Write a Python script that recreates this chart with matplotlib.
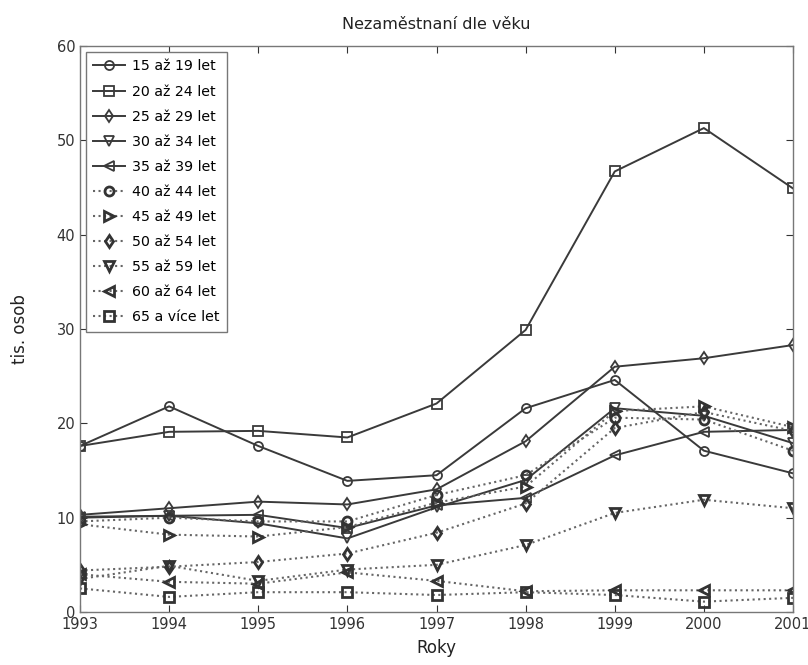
import matplotlib
matplotlib.use("Agg")
import matplotlib.pyplot as plt

# Data (tis. osob)
years = [1993, 1994, 1995, 1996, 1997, 1998, 1999, 2000, 2001]

labels = [
    "15 až 19 let", "20 až 24 let", "25 až 29 let", "30 až 34 let",
    "35 až 39 let", "40 až 44 let", "45 až 49 let", "50 až 54 let",
    "55 až 59 let", "60 až 64 let", "65 a více let",
]

age_15_19 = [17.6, 21.8, 17.6, 13.9, 14.5, 21.6, 24.6, 17.1, 14.7]
age_20_24 = [17.6, 19.1, 19.2, 18.5, 22.1, 29.9, 46.7, 51.3, 44.9]
age_25_29 = [10.3, 11.0, 11.7, 11.4, 13.0, 18.1, 26.0, 26.9, 28.3]
age_30_34 = [10.0, 10.2, 9.4, 7.8, 11.1, 14.0, 21.6, 20.8, 17.9]
age_35_39 = [10.1, 10.2, 10.3, 8.9, 11.3, 12.1, 16.6, 19.1, 19.3]
age_40_44 = [9.6, 10.0, 9.6, 9.6, 12.4, 14.5, 20.6, 20.4, 17.1]
age_45_49 = [9.3, 8.2, 8.0, 9.0, 11.6, 13.3, 21.3, 21.8, 19.6]
age_50_54 = [4.4, 4.8, 5.3, 6.2, 8.4, 11.5, 19.5, 21.2, 19.2]
age_55_59 = [3.5, 4.9, 3.3, 4.5, 5.0, 7.1, 10.5, 11.9, 11.0]
age_60_64 = [4.0, 3.2, 3.0, 4.2, 3.3, 2.2, 2.3, 2.3, 2.3]
age_65_up = [2.5, 1.6, 2.1, 2.1, 1.8, 2.1, 1.8, 1.1, 1.5]

series = [age_15_19, age_20_24, age_25_29, age_30_34, age_35_39,
          age_40_44, age_45_49, age_50_54, age_55_59, age_60_64, age_65_up]
markers = ["o", "s", "d", "v", "<", "o", ">", "d", "v", "<", "s"]
styles = ["-"] * 5 + [":"] * 6

fig = plt.figure(figsize=(8.08, 6.65), dpi=100)
ax = fig.add_axes([80 / 808, 1 - 612 / 665, 713 / 808, 566 / 665])

for vals, lab, m, ls in zip(series, labels, markers, styles):
    if ls == "-":
        ax.plot(years, vals, ls, color="#3a3a3a", linewidth=1.4, marker=m,
                markersize=6.5, markerfacecolor="none", markeredgewidth=1.3,
                label=lab)
    else:
        ax.plot(years, vals, ls, color="#666666", linewidth=1.5, marker=m,
                markersize=6.5, markerfacecolor="none", markeredgewidth=2.0,
                markeredgecolor="#333333", label=lab)

ax.set_xlim(1993, 2001)
ax.set_ylim(0, 60)
ax.set_xticks(years)
ax.set_yticks(range(0, 61, 10))
ax.tick_params(direction="in", length=5, labelsize=10.5, colors="#333333",
               top=True, right=True)
for s in ax.spines.values():
    s.set_color("#777777")
    s.set_linewidth(1.0)

ax.set_title("Nezaměstnaní dle věku", fontsize=11.5, color="#222222", pad=12)
ax.set_xlabel("Roky", fontsize=12, color="#222222", labelpad=5)
ax.set_ylabel("tis. osob", fontsize=12, color="#222222", labelpad=20)

leg = ax.legend(loc="upper left", fontsize=10.2, fancybox=False,
                edgecolor="#777777", framealpha=1, handlelength=2.2,
                borderaxespad=0.4, labelspacing=0.78, handletextpad=0.5,
                borderpad=0.55)
leg.get_frame().set_linewidth(1.0)

fig.savefig("out.png", dpi=100)
